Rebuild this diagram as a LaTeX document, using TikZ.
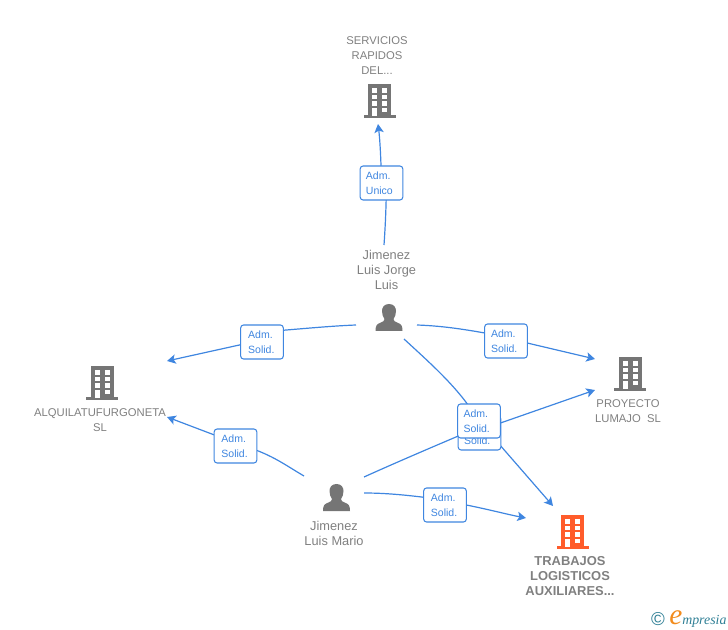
\documentclass[tikz,border=0pt]{standalone}
\usepackage{fontspec}
\setmainfont{Liberation Sans}
\newfontfamily\logofont{Liberation Serif}
\usetikzlibrary{arrows.meta}
\definecolor{edgeblue}{HTML}{3F86E0}
\definecolor{icongray}{HTML}{757575}
\definecolor{textgray}{HTML}{808080}
\definecolor{bldorange}{HTML}{FF5C2B}
\definecolor{logoteal}{HTML}{2F7F95}
\definecolor{logoorange}{HTML}{F28C1E}
\tikzset{
  x=0.75pt,y=-0.75pt,
  link/.style={draw=edgeblue,line width=0.9pt},
  arrowlink/.style={link,-{Stealth[length=6.5pt,width=7pt,inset=1.5pt]}},
  rolebox/.style={draw=edgeblue,fill=white,line width=0.8pt,rounded corners=2.2pt,
    minimum width=32pt,minimum height=25.5pt,inner sep=0pt},
  roletext/.style={align=left,text=edgeblue,inner sep=0pt,anchor=west,font=\fontsize{7.9}{11.25}\selectfont},
  entity/.style={align=center,text=textgray,inner sep=0pt,font=\fontsize{8.45}{11.25}\selectfont},
  person/.style={align=center,text=textgray,inner sep=0pt,font=\fontsize{9.6}{11.25}\selectfont},
  entitybold/.style={align=center,text=textgray,inner sep=0pt,font=\fontsize{9.7}{11.25}\selectfont\bfseries},
}
\newcommand{\bldicon}[3]{%
  \begin{scope}[shift={(#1,#2)}]
    \fill[#3] (-11.5,0) rectangle (11.5,32);
    \fill[#3] (-16,31) rectangle (16,34);
    \foreach \r in {0,1,2,3}{
      \fill[white] (-7.5,{4+\r*6.6}) rectangle (-2.5,{8.6+\r*6.6});
      \fill[white] (2.5,{4+\r*6.6}) rectangle (7.5,{8.6+\r*6.6});
    }
    \fill[white] (-7.5,24) rectangle (-2.5,32);
  \end{scope}}
\newcommand{\personicon}[2]{%
  \begin{scope}[shift={(#1,#2)}]
    \fill[icongray] (0,0) .. controls (-5,0) and (-7,3.5) .. (-7,7)
      .. controls (-7,10.5) and (-6,13) .. (-4.5,15)
      .. controls (-4.5,17) and (-6,17.5) .. (-8,18.5)
      .. controls (-12,20) and (-13.5,21) .. (-13.5,27)
      -- (13.5,27)
      .. controls (13.5,21) and (12,20) .. (8,18.5)
      .. controls (6,17.5) and (4.5,17) .. (4.5,15)
      .. controls (6,13) and (7,10.5) .. (7,7)
      .. controls (7,3.5) and (5,0) .. (0,0) -- cycle;
  \end{scope}}
\newcommand{\rolenode}[4]{%
  \node[rolebox] (#1) at (#2) {};
  \node[roletext] (#1t) at ([xshift=#3]#1.west) {#4};}
\begin{document}
\begin{tikzpicture}
\useasboundingbox (0,0) rectangle (728,630);
\coordinate (jorgeUp) at (384,245);
\coordinate (jorgeL) at (356,325);
\coordinate (jorgeR) at (417,325);
\coordinate (jorgeD) at (404,339);
\coordinate (marioUR) at (364,477);
\coordinate (marioUL) at (304,476);
\coordinate (marioR) at (364,493);
\coordinate (toServ) at (378,124);
\coordinate (toAlqA) at (167,361);
\coordinate (toAlqB) at (167,417);
\coordinate (toProyA) at (595,359);
\coordinate (toProyB) at (595,390);
\coordinate (toTrabA) at (553,506);
\coordinate (toTrabB) at (526,518);
\coordinate (c1) at (381.5,183);
\coordinate (c2) at (262,342);
\coordinate (c3) at (506,341);
\coordinate (c5) at (479.5,433);
\coordinate (c4) at (479,421);
\coordinate (c6) at (235.5,446);
\coordinate (c7) at (445,505);
% points inside the boxes, where the connector parts meet
\coordinate (in1) at (386.5,183);
\coordinate (in2a) at (262,332);
\coordinate (in2b) at (262,340);
\coordinate (in3a) at (506,337);
\coordinate (in3b) at (506,338);
\coordinate (in4a) at (473,412);
\coordinate (in5a) at (479.5,427);
\coordinate (in5b) at (479,430.5);
\coordinate (in6a) at (240,445);
\coordinate (in6b) at (235.5,443);
\coordinate (in7a) at (445,500);
\coordinate (in7b) at (445,501);
% connectors, drawn under the boxes
\draw[link] (jorgeUp) .. controls (385,230) and (386,215) .. (in1);
\draw[arrowlink] (c1) .. controls (381,160) and (380,140) .. (toServ);
\draw[link] (jorgeL) .. controls (330,326) and (300,329) .. (in2a);
\draw[arrowlink] (in2b) -- (toAlqA);
\draw[link] (jorgeR) .. controls (445,326) and (470,330) .. (in3a);
\draw[arrowlink] (in3b) -- (toProyA);
\draw[link] (jorgeD) .. controls (430,363) and (455,385) .. (in4a);
\draw[arrowlink] (c4) -- (toTrabA);
\draw[link] (marioUR) .. controls (395,463) and (430,448) .. (in5a);
\draw[arrowlink] (in5b) -- (toProyB);
\draw[link] (marioUL) .. controls (285,465) and (270,453) .. (in6a);
\draw[arrowlink] (in6b) -- (toAlqB);
\draw[link] (marioR) .. controls (390,493) and (415,496) .. (in7a);
\draw[arrowlink] (in7b) .. controls (480,507) and (505,514) .. (toTrabB);
% role boxes
\rolenode{b1}{c1}{4.5pt}{Adm.\\Unico}
\rolenode{b2}{c2}{5.8pt}{Adm.\\Solid.}
\rolenode{b3}{c3}{5pt}{Adm.\\Solid.}
\node[rolebox] (b5) at (c5) {};
\node[roletext] (b5t) at ([xshift=4.6pt,yshift=-6pt]b5.west) {Solid.};
\rolenode{b4}{c4}{4.6pt}{Adm.\\Solid.}
\rolenode{b6}{c6}{5.6pt}{Adm.\\Solid.}
\rolenode{b7}{c7}{5.6pt}{Adm.\\Solid.}
% icons
\bldicon{379.5}{84}{icongray}
\bldicon{102}{366}{icongray}
\bldicon{630}{357}{icongray}
\bldicon{572.5}{515}{bldorange}
\personicon{389}{304}
\personicon{336.5}{484}
% labels
\node[entity] (serv) at (377,55.5) {SERVICIOS\\RAPIDOS\\DEL...};
\node[entity] (alq) at (100,420) {ALQUILATUFURGONETA\\SL};
\node[entity] (proy) at (628,411) {PROYECTO\\LUMAJO\ \ SL};
\node[entitybold] (trab) at (570,576) {TRABAJOS\\LOGISTICOS\\AUXILIARES...};
\node[person] (jorge) at (386.5,270) {Jimenez\\Luis Jorge\\Luis};
\node[person] (mario) at (334,533.5) {Jimenez\\Luis Mario};
% logo
\node[text=logoteal,inner sep=0pt,font=\fontsize{14}{14}\selectfont] (copy) at (658,619) {©};
\node[anchor=base west,inner sep=0pt,text=logoorange,font=\logofont\itshape\fontsize{22}{22}\selectfont] (logoe) at (669,624) {e};
\node[anchor=base west,inner sep=0pt,text=logoteal,font=\logofont\itshape\fontsize{10.4}{12}\selectfont] (logot) at (682,624) {mpresia};
\end{tikzpicture}
\end{document}
